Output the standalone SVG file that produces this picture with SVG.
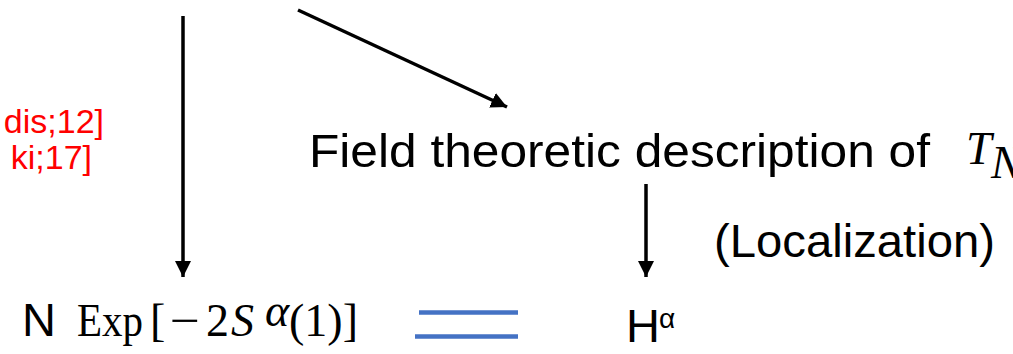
<svg xmlns="http://www.w3.org/2000/svg" width="1013" height="354" viewBox="0 0 1013 354">
<style>
.sans{font-family:"Liberation Sans","Noto Sans",Arial,sans-serif;}
.serif{font-family:"Liberation Serif","Times New Roman",serif;font-size:46px;fill:#000;}
.conn{stroke:#000;stroke-width:3.5;fill:none;}
.ref{fill:#ff0000;font-size:34px;}
.main{fill:#000;font-size:47px;}
.eq{stroke:#4472C4;stroke-width:4.5;}
</style>
<defs>
<marker id="ah" markerUnits="userSpaceOnUse" markerWidth="18" markerHeight="18" refX="16" refY="8" orient="auto">
<path d="M0,0 L16,8 L0,16 Z" fill="#000"/>
</marker>
</defs>
<g id="refs">
<text class="sans ref" x="104" y="133" text-anchor="end">dis;12]</text>
<text class="sans ref" x="92" y="169" text-anchor="end">ki;17]</text>
</g>
<g id="connectors">
<line class="conn" x1="183" y1="16" x2="183" y2="277" marker-end="url(#ah)"/>
<line class="conn" x1="298" y1="10" x2="507" y2="107" marker-end="url(#ah)"/>
<line class="conn" x1="646" y1="184" x2="646" y2="277" marker-end="url(#ah)"/>
</g>
<g id="field">
<text class="sans main" x="309" y="167" textLength="621" lengthAdjust="spacingAndGlyphs">Field theoretic description of</text>
<text class="serif" x="966" y="164" font-size="48" font-style="italic">T</text>
<text class="serif" x="991" y="178" font-size="31" font-style="italic">N</text>
</g>
<g id="localization">
<text class="sans main" x="714" y="257" textLength="281" lengthAdjust="spacingAndGlyphs">(Localization)</text>
</g>
<g id="exp">
<text class="sans main" x="22" y="336">N</text>
<text class="serif" x="77" y="336" textLength="66" lengthAdjust="spacingAndGlyphs">Exp</text>
<text class="serif" x="150" y="336">[</text>
<text class="serif" x="170" y="336" textLength="30" lengthAdjust="spacingAndGlyphs">−</text>
<text class="serif" x="206" y="336">2</text>
<text class="serif" x="231" y="336" font-style="italic">S</text>
<text class="serif" x="265" y="326" font-size="30" font-style="italic">α</text>
<text class="serif" x="289" y="336">(1)]</text>
</g>
<g id="equals">
<line class="eq" x1="419" y1="312.5" x2="518" y2="312.5"/>
<line class="eq" x1="415" y1="336.5" x2="518" y2="336.5"/>
</g>
<g id="h">
<text class="sans main" x="626" y="342">H</text>
<text class="sans" x="659" y="328" font-size="28" fill="#000">α</text>
</g>
</svg>
